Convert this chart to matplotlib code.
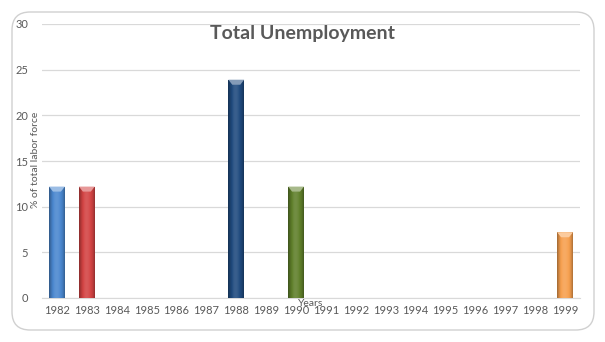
import matplotlib
matplotlib.use("Agg")
import matplotlib.pyplot as plt
import numpy as np
from matplotlib.patches import FancyBboxPatch
from matplotlib.colors import to_rgb

years = [str(y) for y in range(1982, 2000)]
values = [12.2, 12.2, 0, 0, 0, 0, 23.9, 0, 12.2, 0, 0, 0, 0, 0, 0, 0, 0, 7.2]
bar_colors = ["#4a87cf", "#d34343", "#4a87cf", "#4a87cf", "#4a87cf", "#4a87cf",
              "#1f4a7e", "#4a87cf", "#5f7f2a", "#4a87cf", "#4a87cf", "#4a87cf",
              "#4a87cf", "#4a87cf", "#4a87cf", "#4a87cf", "#4a87cf", "#f7a04f"]

plt.rcParams['font.family'] = ['Lato', 'DejaVu Sans']
fig = plt.figure(figsize=(6.05, 3.42), dpi=100)
fig.patch.set_facecolor("white")

border = FancyBboxPatch((12/605, 12/342), (594-12)/605, (330-12)/342,
                        boxstyle="round,pad=0,rounding_size=0.03",
                        transform=fig.transFigure, facecolor="none",
                        edgecolor="#d0d0d0", linewidth=1.0, mutation_aspect=605/342,
                        zorder=-1)
fig.patches.append(border)

ax = fig.add_axes([42/605, (342-298)/342, (580-42)/605, (298-24)/342])
ax.set_facecolor("none")
x = np.arange(len(years))
w = 0.53
bars = ax.bar(x, values, width=w, color=bar_colors, edgecolor="none", zorder=3)

def shade(c, f):
    r = np.array(to_rgb(c))
    if f >= 0:
        return r + (1 - r) * f
    return r * (1 + f)

for b, v, c in zip(bars, values, bar_colors):
    if v <= 0:
        b.set_visible(False)
        continue
    x0 = b.get_x(); x1 = x0 + b.get_width()
    prof = np.array([-0.35, -0.15, 0.0, 0.1, 0.12, 0.08, 0.0, -0.1, -0.3])
    t = np.linspace(0, 1, 60)
    vals = np.interp(t, np.linspace(0, 1, len(prof)), prof)
    img = np.array([shade(c, f) for f in vals])[None, :, :]
    im = ax.imshow(img, extent=(x0, x1, 0, v), aspect="auto", zorder=4,
                   interpolation="bilinear")
    im.set_clip_path(b)
    ax.fill([x0, x1, x0 + (x1 - x0) * 0.75, x0 + (x1 - x0) * 0.25],
            [v, v, v - 0.55, v - 0.55], color=shade(c, 0.45), zorder=5, lw=0)

ax.set_xlim(-0.5, len(years) - 0.5)
ax.set_ylim(0, 30)
ax.set_yticks([0, 5, 10, 15, 20, 25, 30])
ax.set_xticks(x)
ax.set_xticklabels(years)
ax.yaxis.grid(True, color="#d9d9d9", linewidth=0.9, zorder=0)
ax.set_axisbelow(True)
for s in ["top", "right", "left"]:
    ax.spines[s].set_visible(False)
ax.spines["bottom"].set_color("#d9d9d9")
ax.tick_params(axis="both", length=0, labelsize=8, colors="#595959")
ax.tick_params(axis="y", pad=10)
ax.tick_params(axis="x", pad=5)

fig.text(302/605, 1 - 33/342, "Total Unemployment", ha="center", va="center",
         fontsize=14, fontweight="bold", color="#595959")
fig.text(36/605, 1 - 160/342, "% of total labor force", rotation=90,
         ha="center", va="center", fontsize=7.5, color="#595959")
fig.text(311/605, 1 - 304/342, "Years", ha="center", va="center",
         fontsize=7.5, color="#595959")

fig.savefig("out.png", dpi=100)
